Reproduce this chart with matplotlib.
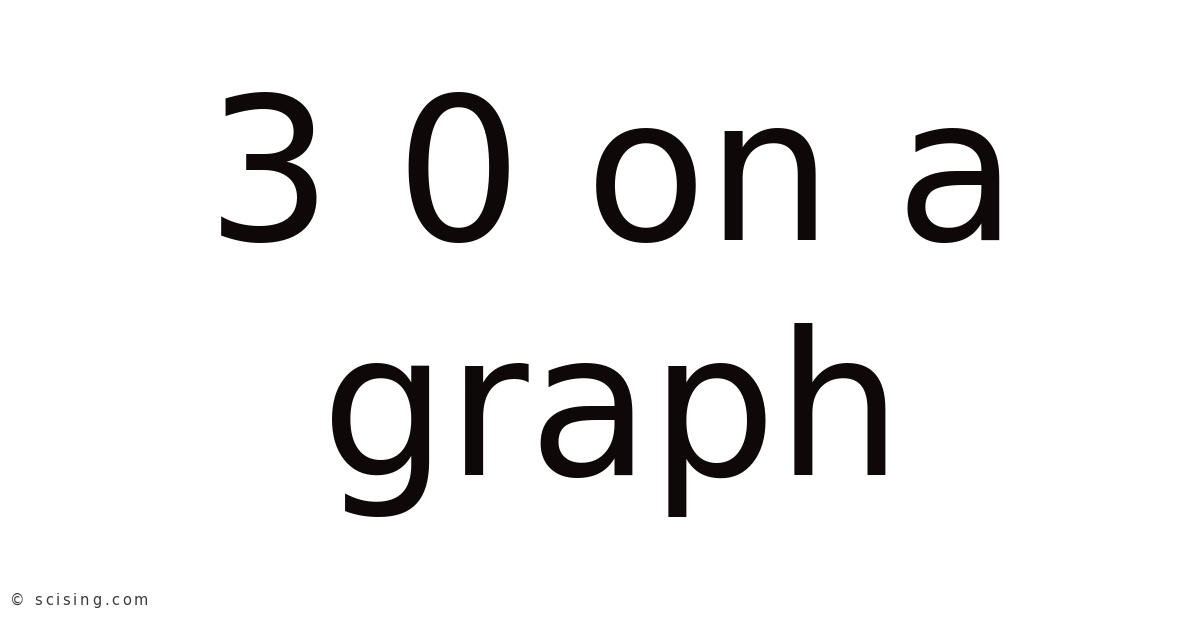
import matplotlib
matplotlib.use("Agg")
import matplotlib.pyplot as plt
from matplotlib.font_manager import FontProperties

lines = ["3 0 on a", "graph"]
baselines_px = [240, 475]
footer = "© scising.com"

W, H = 1200, 628
fig = plt.figure(figsize=(W / 100, H / 100), dpi=100)
fig.patch.set_facecolor("white")

for txt, b in zip(lines, baselines_px):
    fig.text(612 / W, 1 - b / H, txt, ha="center", va="baseline",
             fontsize=143, family="DejaVu Sans", color="#0f0808")

# footer with letter spacing, drawn char by char
renderer = fig.canvas.get_renderer()
fp = FontProperties(family="DejaVu Sans", size=10.5)
x = 10.0
spacing = 2.7
for ch in footer:
    fig.text(x / W, 1 - 605 / H, ch, ha="left", va="baseline",
             fontproperties=fp, color="#3a3a3a")
    w, h, d = renderer.get_text_width_height_descent(ch, fp, ismath=False)
    x += w + spacing

fig.savefig("out.png", dpi=100, facecolor="white")
